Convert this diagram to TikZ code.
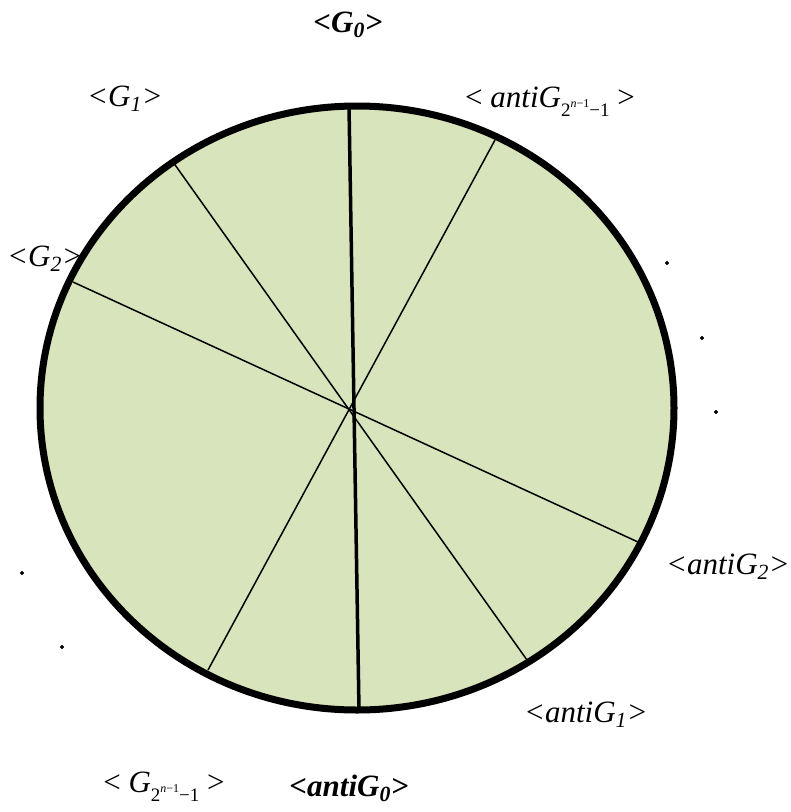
\documentclass[tikz,border=0pt]{standalone}
\usepackage{fontspec}
\setmainfont{Liberation Serif}
\definecolor{sectorgreen}{HTML}{D8E4BC}
\tikzset{
    lbl/.style={font=\fontsize{31}{34}\selectfont\itshape, inner sep=0pt, anchor=base},
    boldlbl/.style={lbl, font=\fontsize{31}{34}\selectfont\bfseries\itshape},
    spoke/.style={line width=1.5pt},
}
\newcommand{\subexp}{\raisebox{-0.32em}{\fontsize{19}{20}\selectfont\upshape 2\raisebox{0.5em}{\fontsize{12}{12}\selectfont\itshape n\upshape −1}−1}}
\begin{document}
\begin{tikzpicture}[x=1pt,y=-1pt]
        \useasboundingbox (0,0) rectangle (791,812);
        \fill[sectorgreen] (357,408) ellipse (317 and 302);
        % rim points of the spokes
        \coordinate (a1) at (349,106);
        \coordinate (b1) at (359,710);
        \coordinate (a2) at (173,162);
        \coordinate (b2) at (527,660);
        \coordinate (a3) at (73,282);
        \coordinate (b3) at (638,542);
        \coordinate (a4) at (495,140);
        \coordinate (b4) at (208,670);
        \draw[line width=3.5pt] (a1) -- (b1);
        \foreach \i in {2,3,4} {
            \draw[spoke] (a\i) -- (b\i);
        }
        \draw[line width=7pt] (357,408) ellipse (317 and 302);
        % labels
        \node[boldlbl] (g0) at (348,32) {<G\textsubscript{0}>};
        \node[lbl] (g1) at (125,106) {<G\textsubscript{1}>};
        \node[lbl] (g2) at (45,266) {<G\textsubscript{2}>};
        \node[lbl] (gl) at (164,792) {{\upshape<} G\subexp{} {\upshape>}};
        \node[lbl] (ag) at (550,107) {{\upshape<} antiG\subexp{} {\upshape>}};
        \node[lbl] (ag2) at (728,574) {<antiG\textsubscript{2}>};
        \node[lbl] (ag1) at (586,722) {<antiG\textsubscript{1}>};
        \node[boldlbl] (ag0) at (349,796) {<antiG\textsubscript{0}>};
        % dots
        \foreach \x/\y in {667/263, 702/338, 716/412, 22/573, 62/647} {
            \filldraw (\x,\y) circle (1.8pt);
        }
    \end{tikzpicture}
\end{document}
